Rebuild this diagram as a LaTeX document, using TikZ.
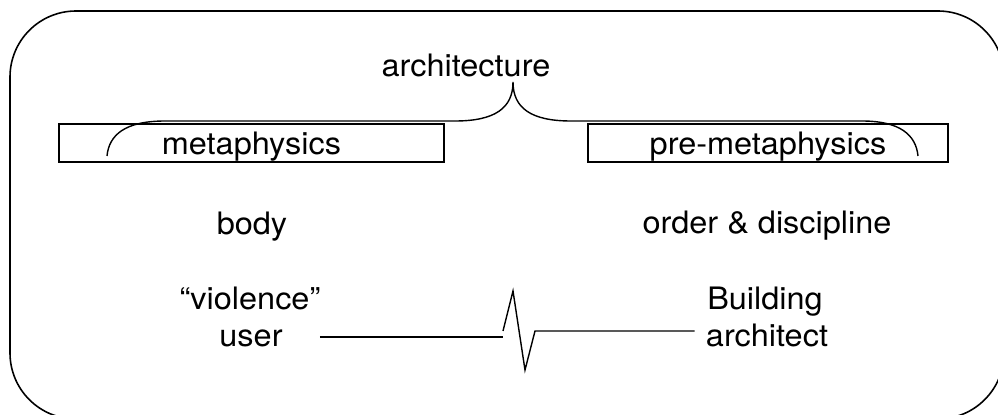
\documentclass[tikz,border=0pt]{standalone}
\usepackage{fontspec}
\setmainfont[FakeStretch=1.05]{TeX Gyre Heros}
\usetikzlibrary{shapes}

\tikzset{
  word/.style={inner sep=0pt, anchor=base, font=\fontsize{17.6}{21}\selectfont},
  wordbox/.style={rectangle, draw=black, line width=1.1pt, minimum height=0.76cm, inner sep=0pt, text height=0.48cm, text depth=0pt, font=\fontsize{17.6}{21}\selectfont},
  wire/.style={line width=0.8pt}
}

\begin{document}
\begin{tikzpicture}[x=0.02cm, y=-0.02cm]
\useasboundingbox (0,0) rectangle (998,415);
\draw[line width=0.9pt, rounded corners=1.32cm] (10,11) rectangle (1004,419);
\draw (466,77) node[word, name=arch]{architecture};
\draw (251.5,143) node[wordbox, name=meta, minimum width=7.7cm]{metaphysics};
\draw (768,143) node[wordbox, name=premeta, minimum width=7.2cm]{pre-metaphysics};
% the brace over both boxes
\draw[wire] (107,156) .. controls (109,135) and (125,121) .. (165,121) -- (455,121) .. controls (495,121) and (513,108) .. (513,82)
  .. controls (513,108) and (531,121) .. (571,121) -- (862,121) .. controls (900,121) and (916,135) .. (918,156);
\draw (252,235) node[word, name=body]{body};
\draw (767,234) node[word, name=order]{order \& discipline};
\draw (250,310) node[word, name=violence]{“violence”};
\draw (251,347) node[word, name=user]{user};
\draw (765,310) node[word, name=building]{Building};
\draw (767,347) node[word, name=architect]{architect};
% the broken line
\coordinate (zA) at (503,337);
\coordinate (zB) at (503,331);
\coordinate (zC) at (513,291);
\coordinate (zD) at (525,370);
\coordinate (zE) at (535,331);
\draw[wire, shorten <=0.74cm] (user.east |- zA) -- (zA);
\draw[wire, shorten >=0.22cm] (zB) -- (zC) -- (zD) -- (zE) -- (architect.west |- zE);
\end{tikzpicture}
\end{document}
